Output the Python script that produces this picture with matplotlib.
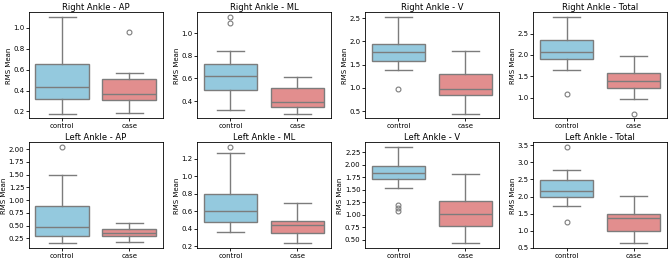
import matplotlib
matplotlib.use("Agg")
import matplotlib.pyplot as plt
import colorsys
import matplotlib.colors as mcolors

groups = ["control", "case"]
titles = ["Right Ankle - AP", "Right Ankle - ML", "Right Ankle - V", "Right Ankle - Total",
          "Left Ankle - AP", "Left Ankle - ML", "Left Ankle - V", "Left Ankle - Total"]

# five-number summaries per panel: [whislo, q1, med, q3, whishi] for control, case
control_stats = [
    [0.18, 0.32, 0.43, 0.655, 1.10],
    [0.32, 0.50, 0.625, 0.725, 0.84],
    [1.38, 1.57, 1.78, 1.95, 2.52],
    [1.65, 1.91, 2.07, 2.36, 2.88],
    [0.15, 0.30, 0.48, 0.89, 1.50],
    [0.36, 0.48, 0.60, 0.80, 1.26],
    [1.53, 1.71, 1.84, 1.98, 2.35],
    [1.72, 1.99, 2.17, 2.47, 2.78],
]
case_stats = [
    [0.19, 0.31, 0.37, 0.51, 0.565],
    [0.29, 0.35, 0.39, 0.515, 0.615],
    [0.45, 0.85, 0.98, 1.30, 1.79],
    [0.98, 1.22, 1.40, 1.57, 1.98],
    [0.17, 0.29, 0.35, 0.43, 0.56],
    [0.23, 0.35, 0.44, 0.49, 0.69],
    [0.43, 0.77, 1.01, 1.27, 1.81],
    [0.63, 0.99, 1.36, 1.50, 2.02],
]
control_fliers = [[], [1.09, 1.14], [0.98], [1.08], [2.04], [1.33], [1.08, 1.13, 1.19], [1.25, 3.44]]
case_fliers = [[0.96], [], [], [0.63], [], [], [], []]

y_ticks = [
    [0.2, 0.4, 0.6, 0.8, 1.0],
    [0.4, 0.6, 0.8, 1.0],
    [0.5, 1.0, 1.5, 2.0, 2.5],
    [1.0, 1.5, 2.0, 2.5],
    [0.25, 0.50, 0.75, 1.00, 1.25, 1.50, 1.75, 2.00],
    [0.2, 0.4, 0.6, 0.8, 1.0, 1.2],
    [0.50, 0.75, 1.00, 1.25, 1.50, 1.75, 2.00, 2.25],
    [0.5, 1.0, 1.5, 2.0, 2.5, 3.0, 3.5],
]
tick_fmt = ["%.1f", "%.1f", "%.1f", "%.1f", "%.2f", "%.1f", "%.2f", "%.1f"]


def desat(c, s=0.75):
    r, g, b = mcolors.to_rgb(c)
    h, l, sat = colorsys.rgb_to_hls(r, g, b)
    return colorsys.hls_to_rgb(h, l, sat * s)


fills = [desat("skyblue"), desat("lightcoral")]
line_c = "#7c7c7c"

fig, axes = plt.subplots(2, 4, figsize=(6.69, 2.60), dpi=100)
fig.subplots_adjust(left=0.043, right=0.997, top=0.952, bottom=0.045, wspace=0.255, hspace=0.227)
for i, ax in enumerate(axes.flat):
    stats = []
    for g, st, fl in zip(groups, [control_stats[i], case_stats[i]], [control_fliers[i], case_fliers[i]]):
        stats.append(dict(label=g, whislo=st[0], q1=st[1], med=st[2], q3=st[3], whishi=st[4], fliers=fl))
    bp = ax.bxp(stats, positions=[0, 1], widths=0.8, patch_artist=True,
                boxprops=dict(edgecolor=line_c, linewidth=1.0),
                whiskerprops=dict(color=line_c, linewidth=1.0),
                capprops=dict(color=line_c, linewidth=1.0),
                medianprops=dict(color=line_c, linewidth=1.0),
                flierprops=dict(marker="o", markerfacecolor="none", markeredgecolor=line_c,
                                markersize=3.5, markeredgewidth=0.8))
    for patch, c in zip(bp["boxes"], fills):
        patch.set_facecolor(c)
    for cap in bp["caps"]:
        x = cap.get_xdata()
        mid = (x[0] + x[1]) / 2
        cap.set_xdata([mid - 0.2, mid + 0.2])
    ax.set_xlim(-0.5, 1.5)
    ax.set_xticks([0, 1])
    ax.set_xticklabels(groups)
    ax.set_yticks(y_ticks[i])
    ax.set_yticklabels([tick_fmt[i] % v for v in y_ticks[i]])
    ax.tick_params(labelsize=5.0, length=2.0, width=0.6, pad=1.2)
    ax.set_title(titles[i], fontsize=6.0, pad=2.0)
    ax.set_ylabel("RMS Mean", fontsize=5.0, labelpad=1.0)
    for s in ax.spines.values():
        s.set_linewidth(0.6)

fig.savefig("out.png", dpi=100)
